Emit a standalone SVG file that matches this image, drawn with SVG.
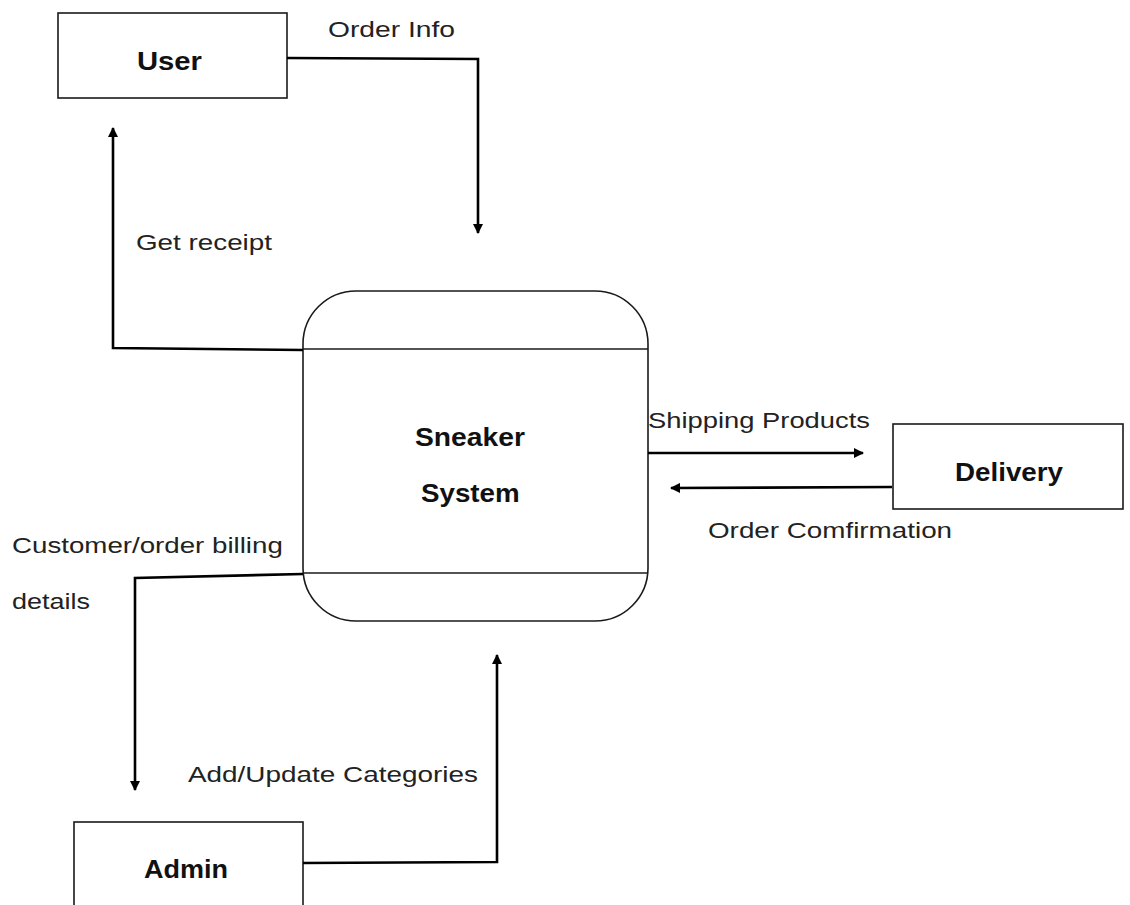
<svg xmlns="http://www.w3.org/2000/svg" width="1130" height="905" viewBox="0 0 1130 905">
  <style>
    .box { fill: #fff; stroke: #1a1a1a; stroke-width: 1.6; }
    .flow { fill: none; stroke: #000; stroke-width: 2.6; }
    .name { font-family: "Liberation Sans", Arial, sans-serif; font-weight: bold; font-size: 25px; fill: #111; }
    .lbl { font-family: "Liberation Sans", Arial, sans-serif; font-size: 22px; fill: #222; }
  </style>
  <defs>
    <marker id="head" viewBox="0 0 10 10" refX="9" refY="5" markerWidth="4" markerHeight="4" markerUnits="strokeWidth" orient="auto">
      <path d="M0,0 L10,5 L0,10 z" fill="#000"/>
    </marker>
  </defs>
  <rect width="1130" height="905" fill="#fff"/>

  <g id="user">
    <rect class="box" x="58" y="13" width="229" height="85"/>
    <text class="name" transform="translate(137,70) scale(1.17,1)">User</text>
  </g>

  <g id="sneaker-system">
    <rect class="box" x="303" y="291" width="345" height="330" rx="53" ry="53"/>
    <line x1="303" y1="349" x2="648" y2="349" stroke="#1a1a1a" stroke-width="1.6"/>
    <line x1="303" y1="573" x2="648" y2="573" stroke="#1a1a1a" stroke-width="1.6"/>
    <text class="name" transform="translate(415,446) scale(1.13,1)">Sneaker</text>
    <text class="name" transform="translate(421,502) scale(1.11,1)">System</text>
  </g>

  <g id="delivery">
    <rect class="box" x="893" y="424" width="230" height="85"/>
    <text class="name" transform="translate(955,481) scale(1.11,1)">Delivery</text>
  </g>

  <g id="admin">
    <rect class="box" x="74" y="822" width="229" height="100"/>
    <text class="name" transform="translate(144,878) scale(1.08,1)">Admin</text>
  </g>

  <g id="connectors">
    <polyline class="flow" points="287,58 478,59 478,233" marker-end="url(#head)"/>
    <polyline class="flow" points="303,350 113,348 113,128" marker-end="url(#head)"/>
    <line class="flow" x1="648" y1="453" x2="863" y2="453" marker-end="url(#head)"/>
    <line class="flow" x1="892" y1="487" x2="671" y2="488" marker-end="url(#head)"/>
    <polyline class="flow" points="303,574 135,578 135,790" marker-end="url(#head)"/>
    <polyline class="flow" points="303,863 497,862 497,655" marker-end="url(#head)"/>
  </g>

  <g id="labels">
    <text class="lbl" transform="translate(328,37) scale(1.283,1)">Order Info</text>
    <text class="lbl" transform="translate(136,250) scale(1.264,1)">Get receipt</text>
    <text class="lbl" transform="translate(648,428) scale(1.244,1)">Shipping Products</text>
    <text class="lbl" transform="translate(708,538) scale(1.264,1)">Order Comfirmation</text>
    <text class="lbl" transform="translate(12,553) scale(1.259,1)">Customer/order billing</text>
    <text class="lbl" transform="translate(12,609) scale(1.227,1)">details</text>
    <text class="lbl" transform="translate(188,782) scale(1.268,1)">Add/Update Categories</text>
  </g>
</svg>
